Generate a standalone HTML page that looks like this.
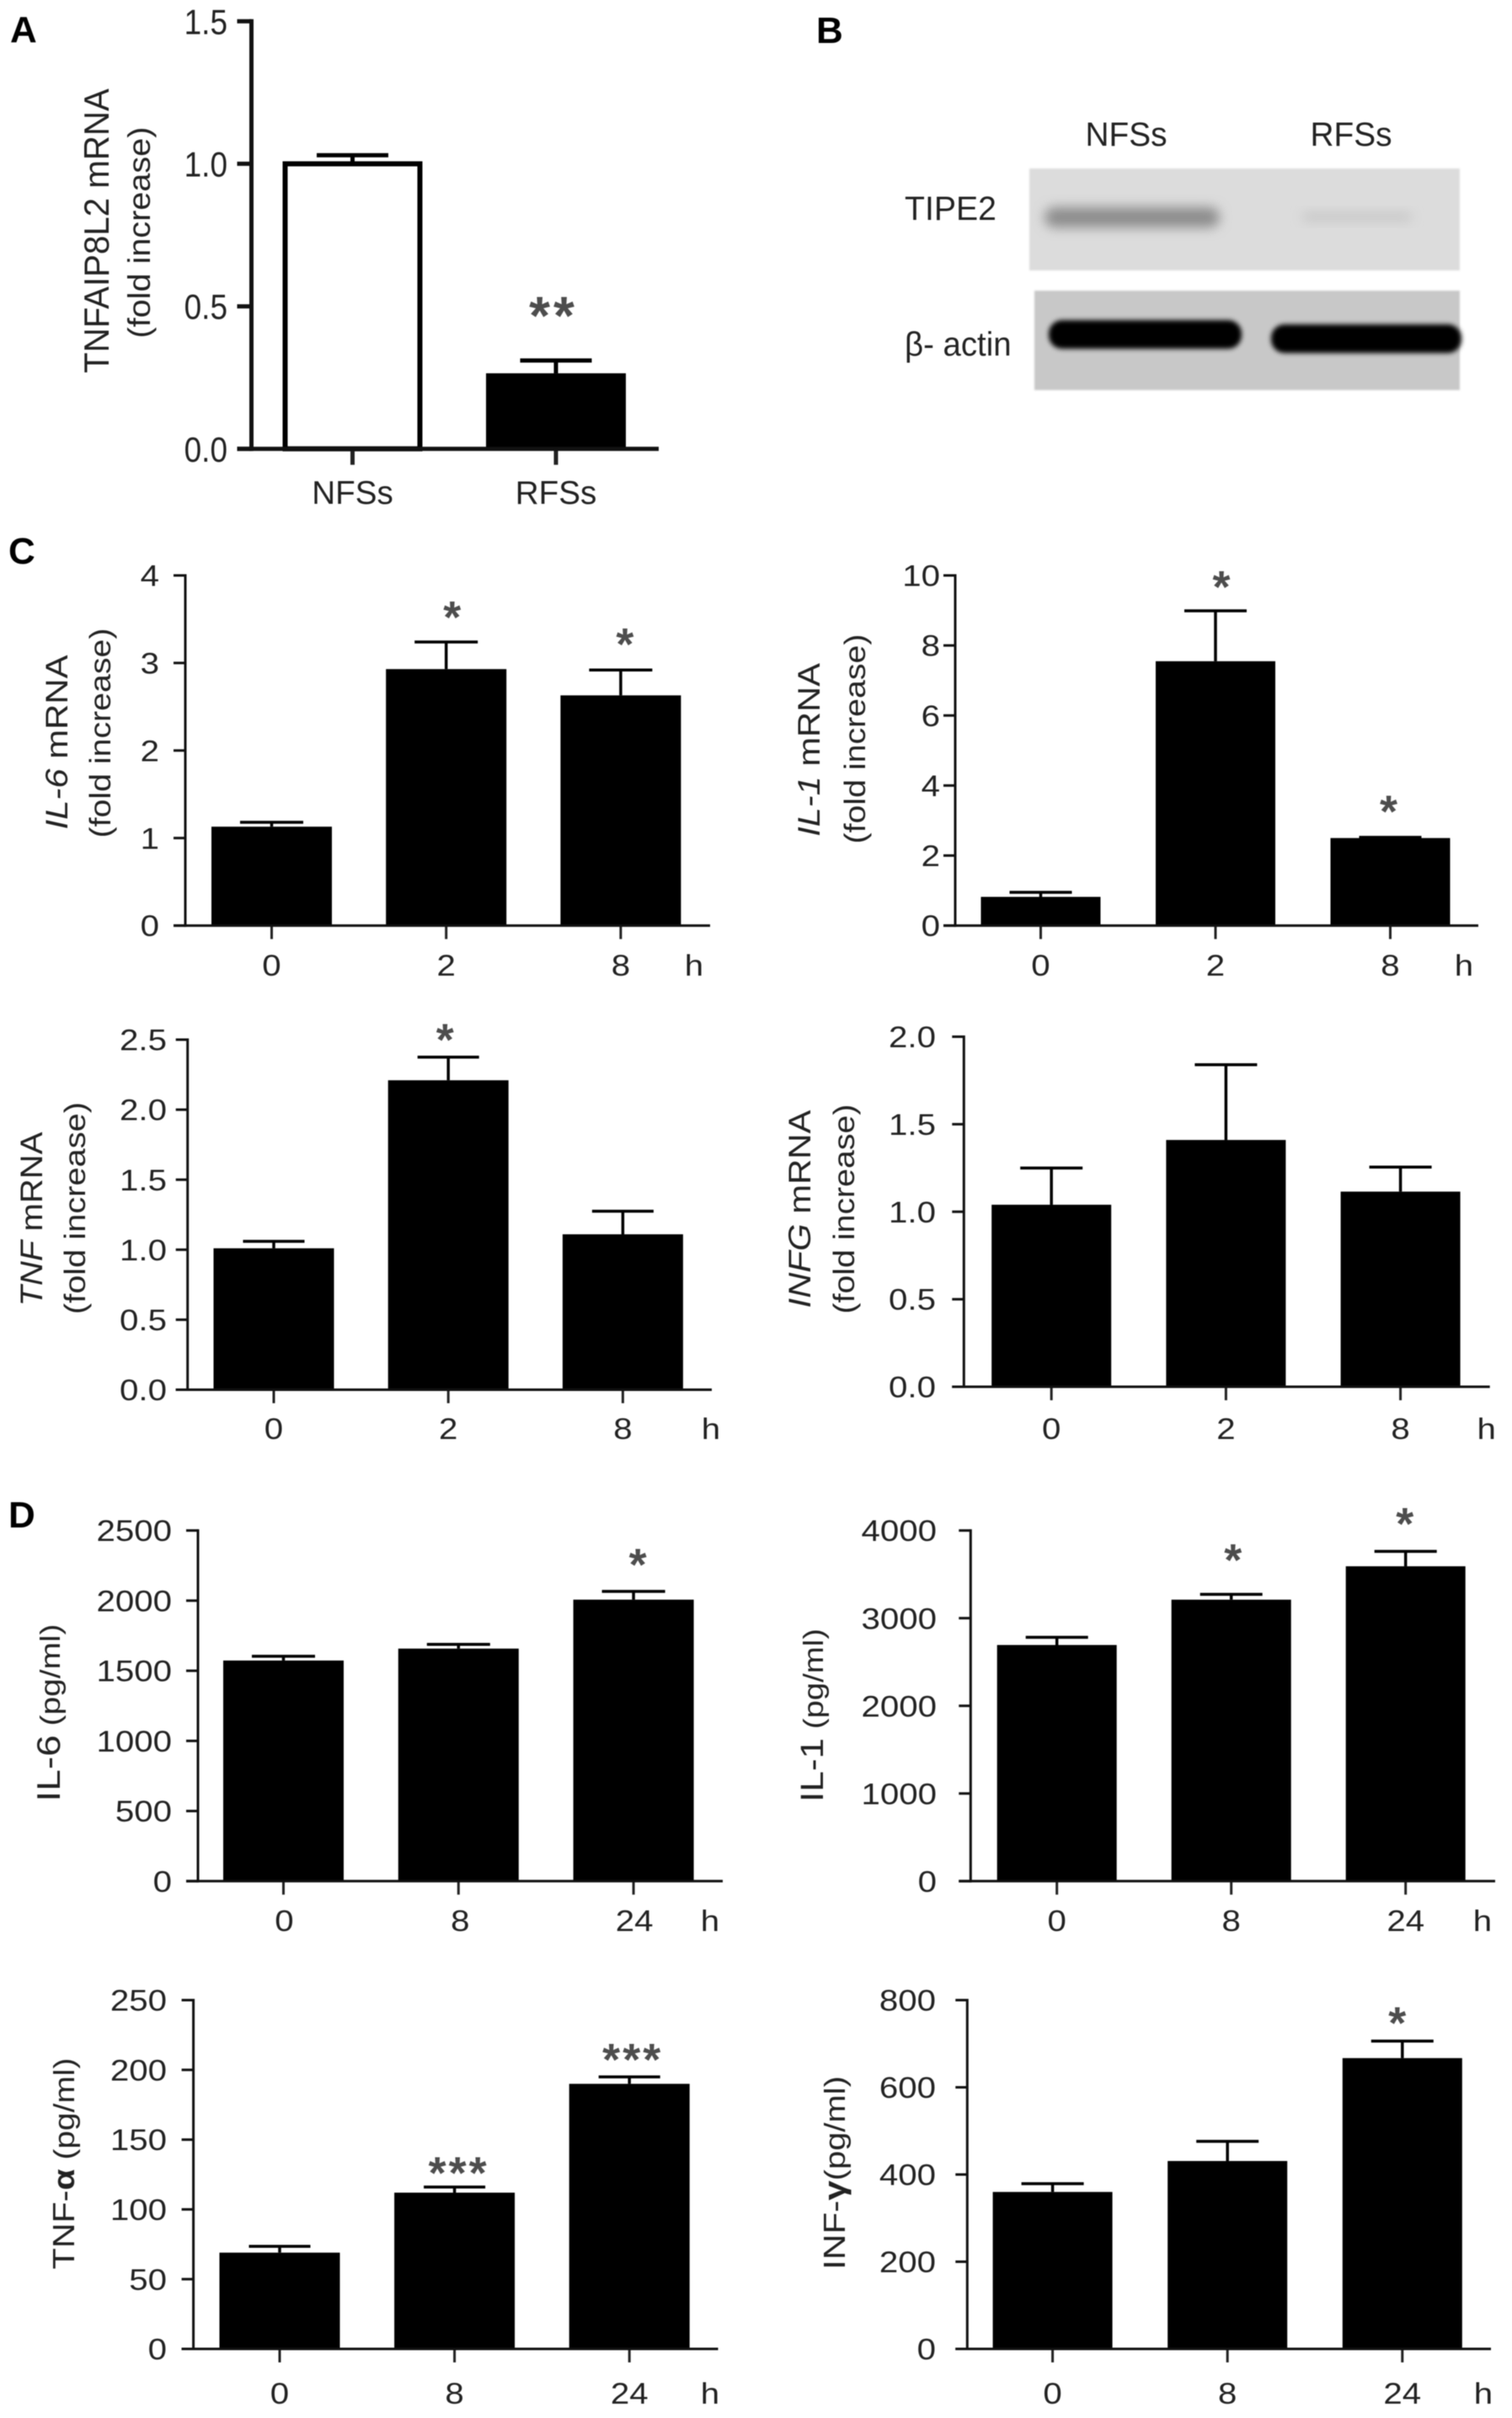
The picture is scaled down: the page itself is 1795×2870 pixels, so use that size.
<!DOCTYPE html>
<html>
<head>
<meta charset="utf-8">
<title>TIPE2 expression and cytokine panels</title>
<style>
html,body{margin:0;padding:0;background:#fff;}
svg{display:block;filter:blur(.5px);}
text{font-family:"Liberation Sans",sans-serif;fill:#222;}
.panel-letter{font-weight:bold;font-size:44px;fill:#000;}
</style>
</head>
<body>
<svg id="figure" xmlns="http://www.w3.org/2000/svg" width="1795" height="2870" viewBox="0 0 1795 2870">
  <defs>
    <filter id="soft" x="-20%" y="-100%" width="140%" height="300%"><feGaussianBlur stdDeviation="7"/></filter>
    <filter id="softer" x="-10%" y="-60%" width="120%" height="220%"><feGaussianBlur stdDeviation="3"/></filter>
    <filter id="edge" x="-5%" y="-5%" width="110%" height="110%"><feGaussianBlur stdDeviation="1"/></filter>
  </defs>
  <rect width="1795" height="2870" fill="#fff"/>

  <text class="panel-letter" x="12" y="50">A</text>
  <text class="panel-letter" x="969" y="51">B</text>
  <text class="panel-letter" x="10" y="669">C</text>
  <text class="panel-letter" x="10" y="1813">D</text>

  <g>
    <text x="1337" y="173" font-size="40" text-anchor="middle" transform="translate(1337 0) scale(.97 1) translate(-1337 0)">NFSs</text>
    <text x="1604" y="173" font-size="40" text-anchor="middle" transform="translate(1604 0) scale(.97 1) translate(-1604 0)">RFSs</text>
    <text x="1074" y="261" font-size="40" transform="translate(1074 0) scale(.98 1) translate(-1074 0)">TIPE2</text>
    <text x="1074" y="422" font-size="40" transform="translate(1074 0) scale(.96 1) translate(-1074 0)">β- actin</text>

    <rect x="1222" y="200" width="511" height="121" fill="#dcdcdc" filter="url(#edge)"/>
    <rect x="1240" y="246" width="208" height="24" rx="12" fill="#8c8c8c" filter="url(#soft)"/>
    <rect x="1546" y="253" width="130" height="9" rx="4" fill="#c2c2c2" filter="url(#soft)"/>

    <rect x="1228" y="345" width="505" height="118" fill="#c8c8c8" filter="url(#edge)"/>
    <rect x="1245" y="380" width="229" height="34" rx="16" fill="#000" filter="url(#softer)"/>
    <rect x="1509" y="385" width="226" height="34" rx="16" fill="#000" filter="url(#softer)"/>
  </g>
</svg>

<script>
// ---- Panel A ----
const tnfaipCategories = ['NFSs', 'RFSs'];
const tnfaipTicks = ['0.0', '0.5', '1.0', '1.5'];
const tnfaipValues = [1.0, 0.265];
const tnfaipErrors = [0.03, 0.045];
const tnfaipStars = ['', '**'];

// ---- Panel C ----
const hourTicksC = ['0', '2', '8'];
const il6MrnaTicks = ['0', '1', '2', '3', '4'];
const il6MrnaValues = [1.13, 2.93, 2.63];
const il6MrnaErrors = [0.05, 0.31, 0.29];
const il6MrnaStars = ['', '*', '*'];

const il1MrnaTicks = ['0', '2', '4', '6', '8', '10'];
const il1MrnaValues = [0.82, 7.55, 2.5];
const il1MrnaErrors = [0.13, 1.44, 0.02];
const il1MrnaStars = ['', '*', '*'];

const tnfMrnaTicks = ['0.0', '0.5', '1.0', '1.5', '2.0', '2.5'];
const tnfMrnaValues = [1.01, 2.21, 1.11];
const tnfMrnaErrors = [0.05, 0.165, 0.165];
const tnfMrnaStars = ['', '*', ''];

const infgMrnaTicks = ['0.0', '0.5', '1.0', '1.5', '2.0'];
const infgMrnaValues = [1.04, 1.41, 1.115];
const infgMrnaErrors = [0.21, 0.43, 0.14];
const infgMrnaStars = ['', '', ''];

// ---- Panel D ----
const hourTicksD = ['0', '8', '24'];
const il6ProteinTicks = ['0', '500', '1000', '1500', '2000', '2500'];
const il6ProteinValues = [1573, 1658, 2007];
const il6ProteinErrors = [30, 30, 59];
const il6ProteinStars = ['', '', '*'];

const il1ProteinTicks = ['0', '1000', '2000', '3000', '4000'];
const il1ProteinValues = [2694, 3211, 3592];
const il1ProteinErrors = [88, 61, 170];
const il1ProteinStars = ['', '*', '*'];

const tnfaProteinTicks = ['0', '50', '100', '150', '200', '250'];
const tnfaProteinValues = [69, 112, 190];
const tnfaProteinErrors = [4.5, 4, 5];
const tnfaProteinStars = ['', '***', '***'];

const infyProteinTicks = ['0', '200', '400', '600', '800'];
const infyProteinValues = [360, 431, 667];
const infyProteinErrors = [19, 45, 39];
const infyProteinStars = ['', '', '*'];

const SVGNS = 'http://www.w3.org/2000/svg';
const figure = document.getElementById('figure');

function shape(parent, tag, attrs, name) {
  const el = document.createElementNS(SVGNS, tag);
  for (const k in attrs) el.setAttribute(k, attrs[k]);
  
  
  parent.appendChild(el);
  return el;
}

function label(parent, x, y, str, size, anchor, sx, name, fill) {
  const el = shape(parent, 'text', {
    'font-size': size,
    'text-anchor': anchor,
    transform: 'translate(' + x + ' ' + y + ') scale(' + sx + ' 1)'
  }, name);
  if (fill) el.style.fill = fill;
  el.textContent = str;
  return el;
}

// parts: list of [text, fontSize, italic, bold]
function rotatedLabel(parent, x, y, length, parts, size, name) {
  const el = shape(parent, 'text', {'font-size': size, 'text-anchor': 'middle'}, name);
  parts.forEach(function (p) {
    const t = document.createElementNS(SVGNS, 'tspan');
    t.textContent = p[0];
    if (p[1]) t.setAttribute('font-size', p[1]);
    if (p[2]) t.setAttribute('font-style', 'italic');
    if (p[3]) t.setAttribute('font-weight', 'bold');
    el.appendChild(t);
  });
  const natural = el.getComputedTextLength() || length;
  el.setAttribute('transform', 'translate(' + x + ' ' + y + ') rotate(-90) scale(' + (length / natural) + ' 1)');
  return el;
}

function barPanel(name, s) {
  const g = shape(figure, 'g', {}, name);
  const maxV = parseFloat(s.ticks[s.ticks.length - 1]);
  const yScale = function (v) { return s.bottom - v / maxV * (s.bottom - s.top); };
  const xScale = function (i) { return s.x0 + i * s.step; };
  const axisW = s.axisW || 3;
  const tickLen = s.tickLen || 14;
  const fills = s.fills || [];
  const starSize = s.starSize || 54;

  // bars and error bars
  s.values.forEach(function (v, i) {
    const cx = xScale(i);
    const top = yScale(v);
    const capY = yScale(v + s.errors[i]);
    const fill = fills[i] || '#000';
    shape(g, 'line', {x1: cx, x2: cx, y1: capY, y2: top, stroke: '#000', 'stroke-width': s.errW || 3.5}, name + '-error-stem-' + i);
    shape(g, 'line', {x1: cx - s.capW / 2, x2: cx + s.capW / 2, y1: capY, y2: capY, stroke: '#000', 'stroke-width': s.errW || 3.5}, name + '-error-cap-' + i);
    const inset = fill === '#000' ? 0 : (s.barStroke || axisW) / 2;
    shape(g, 'rect', {
      x: cx - s.barW / 2 + inset, y: top, width: s.barW - inset * 2, height: s.bottom - top,
      fill: fill, stroke: '#000', 'stroke-width': fill === '#000' ? 0 : (s.barStroke || axisW)
    }, name + '-bar-' + i);
    if (s.stars[i]) {
      const star = label(g, cx + (s.starDx ? s.starDx[i] : 0), capY - s.starLift[i] + starSize * 0.46, s.stars[i], starSize, 'middle', 1, name + '-significance-' + i, '#4d4d4d');
      star.setAttribute('font-weight', 'bold');
      star.setAttribute('letter-spacing', s.starGap || 0);
    }
    shape(g, 'line', {x1: cx, x2: cx, y1: s.bottom, y2: s.bottom + tickLen + 2, stroke: '#222', 'stroke-width': axisW}, name + '-x-tick-' + i);
    label(g, cx + (s.xLabelDx || [0, 0, 0])[i], s.xLabelY, s.categories[i], s.xFont || s.font, 'middle', s.xSx || s.sx, name + '-x-label-' + i);
  });

  // axes
  shape(g, 'line', {x1: s.axisX, x2: s.axisX, y1: s.top - axisW / 2, y2: s.bottom + axisW / 2, stroke: '#111', 'stroke-width': axisW}, name + '-y-axis');
  shape(g, 'line', {x1: s.axisX - tickLen, x2: s.xEnd, y1: s.bottom, y2: s.bottom, stroke: '#111', 'stroke-width': axisW}, name + '-x-axis');
  s.ticks.forEach(function (t, i) {
    const y = yScale(parseFloat(t));
    shape(g, 'line', {x1: s.axisX - tickLen, x2: s.axisX, y1: y, y2: y, stroke: '#111', 'stroke-width': axisW}, name + '-y-tick-' + i);
    label(g, s.tickRight, y + s.font * 0.36, t, s.font, 'end', s.sx, name + '-y-label-' + i);
  });
  if (s.unitX) label(g, s.unitX, s.xLabelY, 'h', s.font, 'middle', s.sx, name + '-unit-hours');
  s.axisLabels.forEach(function (a, i) {
    rotatedLabel(g, a.x, a.y, a.len, a.parts, a.size, name + '-y-title-' + i);
  });
}

barPanel('tnfaip8l2-chart', {
  categories: tnfaipCategories, ticks: tnfaipTicks, values: tnfaipValues, errors: tnfaipErrors, stars: tnfaipStars,
  fills: ['#fff', '#000'],
  axisX: 298.5, top: 25.3, bottom: 532.7, xEnd: 782, x0: 418.5, step: 241.5, barW: 166, capW: 85,
  tickRight: 270, font: 42, sx: 0.88, xFont: 39, xSx: 0.99, xLabelY: 598, axisW: 5, barStroke: 6, errW: 5, tickLen: 17,
  starLift: [0, 61], starDx: [0, -3], starSize: 64, starGap: 4,
  axisLabels: [
    {x: 129, y: 274, len: 338, size: 42, parts: [['TNFAIP8L2 mRNA']]},
    {x: 178, y: 276, len: 251, size: 37, parts: [['(fold increase)']]}
  ]
});

function foldTitle(x1, x2, y1, len1, y2, len2, gene) {
  return [
    {x: x1, y: y1, len: len1, size: 37, parts: [[gene, 0, true], [' mRNA']]},
    {x: x2, y: y2, len: len2, size: 35, parts: [['(fold increase)']]}
  ];
}

barPanel('il6-mrna-chart', {
  categories: hourTicksC, ticks: il6MrnaTicks, values: il6MrnaValues, errors: il6MrnaErrors, stars: il6MrnaStars,
  axisX: 220, top: 683, bottom: 1098.6, xEnd: 843, x0: 322.5, step: 207.2, barW: 143, capW: 75,
  tickRight: 189, font: 35, sx: 1.15, xLabelY: 1158, unitX: 824,
  starLift: [0, 36, 37], starDx: [0, 7, 5],
  axisLabels: foldTitle(80, 131, 881, 207, 870, 249, 'IL-6')
});
barPanel('il1-mrna-chart', {
  categories: hourTicksC, ticks: il1MrnaTicks, values: il1MrnaValues, errors: il1MrnaErrors, stars: il1MrnaStars,
  axisX: 1134, top: 683, bottom: 1098.6, xEnd: 1755, x0: 1235.5, step: 207.5, barW: 142, capW: 74,
  tickRight: 1116, font: 35, sx: 1.15, xLabelY: 1158, unitX: 1738,
  starLift: [0, 35, 37], starDx: [0, 7, -2],
  axisLabels: foldTitle(973, 1027, 890, 206, 877, 249, 'IL-1')
});
barPanel('tnf-mrna-chart', {
  categories: hourTicksC, ticks: tnfMrnaTicks, values: tnfMrnaValues, errors: tnfMrnaErrors, stars: tnfMrnaStars,
  axisX: 222.7, top: 1234, bottom: 1649.5, xEnd: 845, x0: 325, step: 207.2, barW: 143, capW: 73,
  tickRight: 198, font: 35, sx: 1.15, xLabelY: 1708, unitX: 844,
  starLift: [0, 27, 0], starDx: [0, -4, 0],
  axisLabels: foldTitle(50, 101, 1447, 207, 1434, 252, 'TNF')
});
barPanel('infg-mrna-chart', {
  categories: hourTicksC, ticks: infgMrnaTicks, values: infgMrnaValues, errors: infgMrnaErrors, stars: infgMrnaStars,
  axisX: 1144.3, top: 1230.5, bottom: 1646, xEnd: 1768.7, x0: 1248.2, step: 207.2, barW: 142, capW: 74,
  tickRight: 1111, font: 35, sx: 1.15, xLabelY: 1708, unitX: 1764.7,
  starLift: [0, 0, 0],
  axisLabels: foldTitle(962, 1014, 1435, 235, 1435, 249, 'INFG')
});

barPanel('il6-protein-chart', {
  categories: hourTicksD, ticks: il6ProteinTicks, values: il6ProteinValues, errors: il6ProteinErrors, stars: il6ProteinStars,
  axisX: 235, top: 1816.6, bottom: 2232.8, xEnd: 858, x0: 336.5, step: 207.8, barW: 143, capW: 75,
  tickRight: 204, font: 35, sx: 1.15, xLabelY: 2292, unitX: 843, xLabelDx: [1, 2, 1],
  starLift: [0, 0, 38], starDx: [0, 0, 5],
  axisLabels: [{x: 71, y: 2033, len: 211, size: 36, parts: [['IL-6', 39], ['  (pg/ml)', 33]]}]
});
barPanel('il1-protein-chart', {
  categories: hourTicksD, ticks: il1ProteinTicks, values: il1ProteinValues, errors: il1ProteinErrors, stars: il1ProteinStars,
  axisX: 1152.3, top: 1816.6, bottom: 2232.8, xEnd: 1775, x0: 1254.7, step: 207, barW: 142, capW: 74,
  tickRight: 1112, font: 35, sx: 1.15, xLabelY: 2292, unitX: 1760,
  starLift: [0, 47, 39], starDx: [0, 2, -1],
  axisLabels: [{x: 977, y: 2036, len: 206, size: 36, parts: [['IL-1', 38], [' (pg/ml)', 33]]}]
});
barPanel('tnfa-protein-chart', {
  categories: hourTicksD, ticks: tnfaProteinTicks, values: tnfaProteinValues, errors: tnfaProteinErrors, stars: tnfaProteinStars,
  axisX: 229.6, top: 2374, bottom: 2788, xEnd: 852.5, x0: 332, step: 207.6, barW: 143, capW: 73,
  tickRight: 198, font: 35, sx: 1.15, xLabelY: 2853, unitX: 843,
  starLift: [0, 23, 27], starDx: [0, 5, 4], starGap: 3,
  axisLabels: [{x: 88, y: 2568, len: 251, size: 36, parts: [['TNF-'], ['α', 0, false, true], [' (pg/ml)', 34]]}]
});
barPanel('infy-protein-chart', {
  categories: hourTicksD, ticks: infyProteinTicks, values: infyProteinValues, errors: infyProteinErrors, stars: infyProteinStars,
  axisX: 1148.3, top: 2374, bottom: 2788, xEnd: 1770, x0: 1249.6, step: 207.6, barW: 142, capW: 74,
  tickRight: 1111, font: 35, sx: 1.15, xLabelY: 2853, unitX: 1761,
  starLift: [0, 0, 28], starDx: [0, 0, -6],
  axisLabels: [{x: 1003, y: 2579, len: 230, size: 36, parts: [['INF-'], ['γ', 0, false, true], ['(pg/ml)', 34]]}]
});
</script>
</body>
</html>
